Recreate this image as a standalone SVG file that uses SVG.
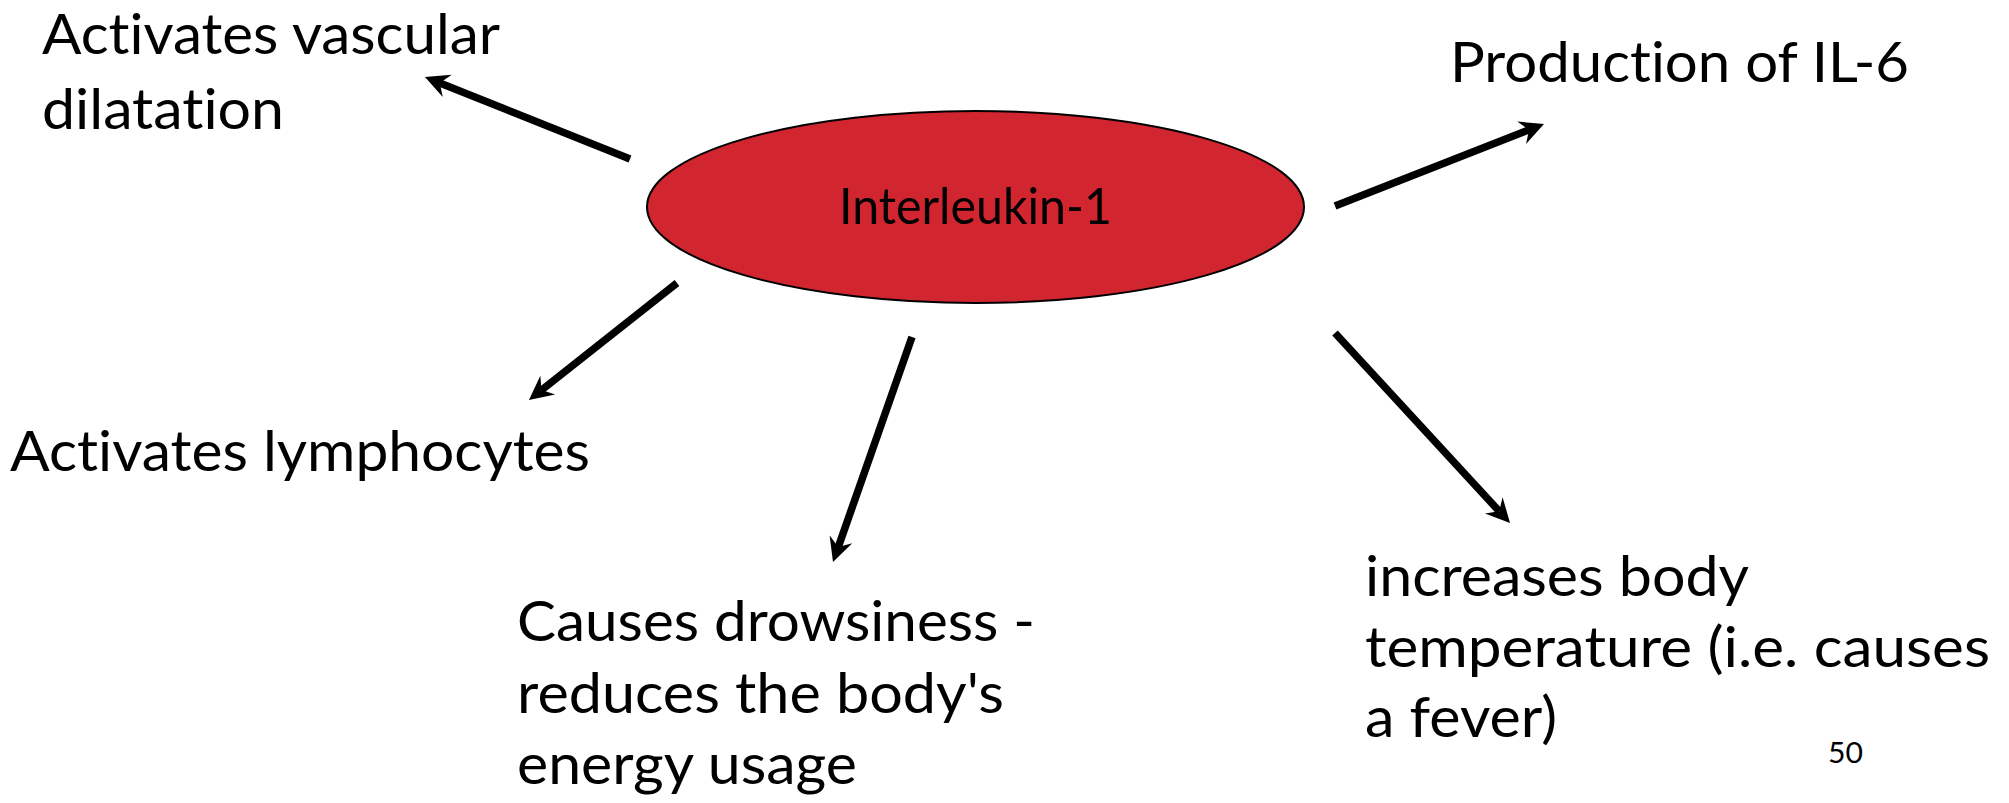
<svg xmlns="http://www.w3.org/2000/svg" width="2009" height="803" viewBox="0 0 2009 803">
<style>
.t{font-family:Lato,"Open Sans","Liberation Sans",sans-serif;font-size:56px;fill:#000;font-variant-ligatures:none;font-feature-settings:"liga" 0,"clig" 0}
.c{font-size:50px}
.n{font-size:29px}
.a{stroke:#000;stroke-width:7.5;fill:none;marker-end:url(#ah)}
</style>
<defs>
<marker id="ah" markerUnits="userSpaceOnUse" viewBox="-10 -15 30 30" markerWidth="30" markerHeight="30" refX="0" refY="0" orient="auto" overflow="visible">
<path d="M16,0 L-8,-12 L0,0 L-8,12 Z" fill="#000"/>
</marker>
</defs>
<rect width="2009" height="803" fill="#fff"/>
<g id="connectors">
<line class="a" x1="630" y1="159" x2="439.8" y2="82.9"/>
<line class="a" x1="1335" y1="206" x2="1529.1" y2="129.8"/>
<line class="a" x1="677" y1="283" x2="541.5" y2="390.1"/>
<line class="a" x1="912" y1="337" x2="838.3" y2="546.9"/>
<line class="a" x1="1335" y1="333" x2="1499.2" y2="511.2"/>
</g>
<g id="interleukin1">
<ellipse cx="975.5" cy="207" rx="328.5" ry="96" fill="#D12530" stroke="#000" stroke-width="2"/>
<text class="t c" x="839" y="224" textLength="273" lengthAdjust="spacingAndGlyphs">Interleukin-1</text>
</g>
<g id="vascular">
<text class="t" x="42" y="54" textLength="458" lengthAdjust="spacingAndGlyphs">Activates vascular</text>
<text class="t" x="42" y="129" textLength="242" lengthAdjust="spacingAndGlyphs">dilatation</text>
</g>
<g id="il6">
<text class="t" x="1450" y="82" textLength="459" lengthAdjust="spacingAndGlyphs">Production of IL-6</text>
</g>
<g id="lymphocytes">
<text class="t" x="10" y="471" textLength="580" lengthAdjust="spacingAndGlyphs">Activates lymphocytes</text>
</g>
<g id="drowsiness">
<text class="t" x="517" y="641" textLength="518" lengthAdjust="spacingAndGlyphs">Causes drowsiness -</text>
<text class="t" x="517" y="713" textLength="487" lengthAdjust="spacingAndGlyphs">reduces the body's</text>
<text class="t" x="517" y="784" textLength="340" lengthAdjust="spacingAndGlyphs">energy usage</text>
</g>
<g id="fever">
<text class="t" x="1365" y="596" textLength="384" lengthAdjust="spacingAndGlyphs">increases body</text>
<text class="t" x="1365" y="667" textLength="625" lengthAdjust="spacingAndGlyphs">temperature (i.e. causes</text>
<text class="t" x="1365" y="737" textLength="192" lengthAdjust="spacingAndGlyphs">a fever)</text>
</g>
<g id="page">
<text class="t n" x="1828" y="763" textLength="35" lengthAdjust="spacingAndGlyphs">50</text>
</g>
</svg>
